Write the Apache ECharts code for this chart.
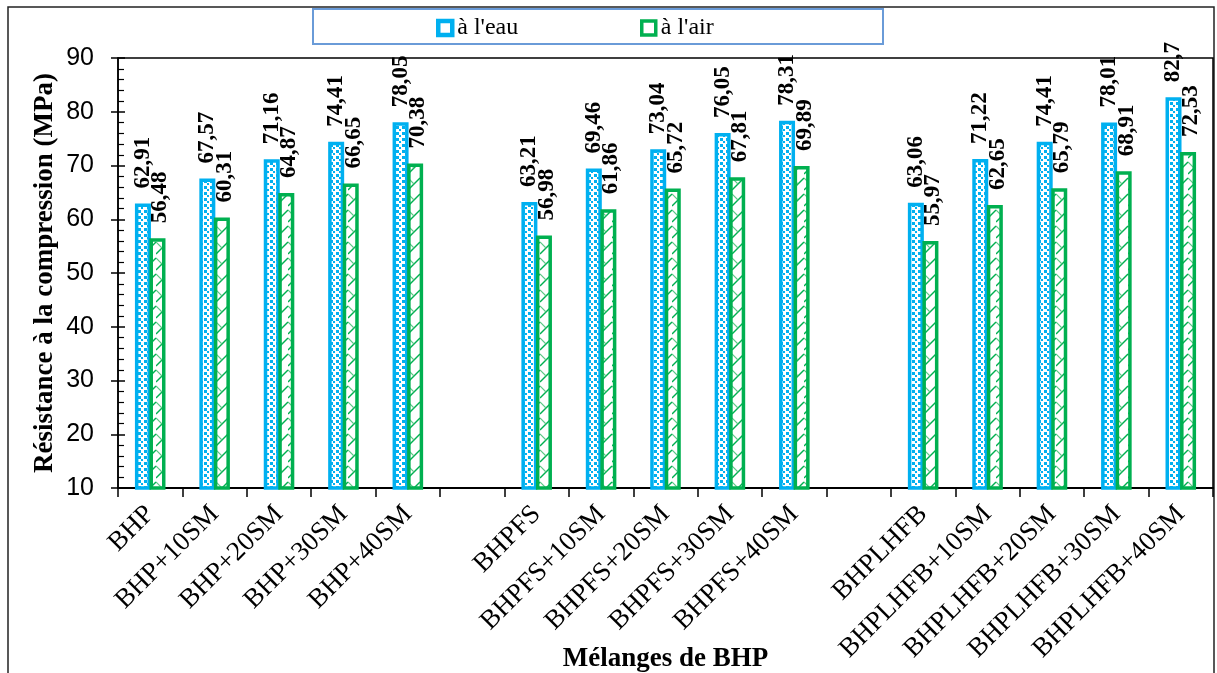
<!DOCTYPE html>
<html>
<head>
<meta charset="utf-8">
<script src="https://cdn.jsdelivr.net/npm/echarts@6/dist/echarts.min.js"></script>
<style>
html,body{margin:0;padding:0;background:#fff;}
#c{width:1217px;height:673px;}
</style>
</head>
<body>
<div id="c"></div>
<script>
const categories = ['BHP','BHP+10SM','BHP+20SM','BHP+30SM','BHP+40SM','',
  'BHPFS','BHPFS+10SM','BHPFS+20SM','BHPFS+30SM','BHPFS+40SM','',
  'BHPLHFB','BHPLHFB+10SM','BHPLHFB+20SM','BHPLHFB+30SM','BHPLHFB+40SM'];
const eauValues = [62.91,67.57,71.16,74.41,78.05,null,
  63.21,69.46,73.04,76.05,78.31,null,
  63.06,71.22,74.41,78.01,82.7];
const airValues = [56.48,60.31,64.87,66.65,70.38,null,
  56.98,61.86,65.72,67.81,69.89,null,
  55.97,62.65,65.79,68.91,72.53];
const seriesNames = ["à l'eau","à l'air"];
const yTicks = {min:10, max:90, interval:10};

const BLUE = '#00B0F0', GREEN = '#00B050';

function bluePattern(){
  const c = document.createElement('canvas'); c.width = 6; c.height = 6;
  const g = c.getContext('2d');
  g.fillStyle = '#fff'; g.fillRect(0,0,6,6);
  g.fillStyle = BLUE;
  g.fillRect(0,0,3,3); g.fillRect(3,3,2,2);
  return {image:c, repeat:'repeat'};
}
function greenPattern(){
  const c = document.createElement('canvas'); c.width = 12; c.height = 16;
  const g = c.getContext('2d');
  g.fillStyle = '#fff'; g.fillRect(0,0,12,16);
  g.strokeStyle = GREEN; g.lineWidth = 1.4;
  g.beginPath(); g.moveTo(0,14); g.lineTo(12,2); g.stroke();
  g.strokeStyle = '#5cc886'; g.lineWidth = 1.1;
  g.beginPath(); g.moveTo(0,2); g.lineTo(6,8); g.stroke();
  return {image:c, repeat:'repeat'};
}
const fmt = p => (p.value == null ? '' : String(p.value).replace('.', ','));
const serif = '"Liberation Serif", "Times New Roman", serif';
const labelBase = {
  show:true, position:'top', rotate:90, align:'left', verticalAlign:'middle',
  distance:15, fontFamily:serif, fontWeight:'bold', fontSize:23, color:'#000', formatter: fmt
};

const chart = echarts.init(document.getElementById('c'), null, {renderer:'canvas'});
chart.setOption({
  backgroundColor:'#fff',
  animation:false,
  graphic:[
    {type:'rect', shape:{x:8,y:7,width:1206,height:700}, style:{fill:'none', stroke:'#222', lineWidth:1.5}, z:-1},
    {type:'rect', shape:{x:313,y:9,width:570,height:35}, style:{fill:'#fff', stroke:'#6A9BD8', lineWidth:2}, z:0}
  ],
  legend:[
    {left:431, top:11, icon:'rect', itemWidth:14, itemHeight:14, itemGap:5,
     textStyle:{fontFamily:serif, fontSize:24, color:'#000'},
     data:[{name:seriesNames[0], itemStyle:{color:'#fff', borderColor:BLUE, borderWidth:4.5}}], z:5},
    {left:635, top:11, icon:'rect', itemWidth:14, itemHeight:14, itemGap:5,
     textStyle:{fontFamily:serif, fontSize:24, color:'#000'},
     data:[{name:seriesNames[1], itemStyle:{color:'#fff', borderColor:GREEN, borderWidth:3.5}}], z:5}
  ],
  grid:{left:118, top:58, right:4, bottom:185, containLabel:false, outerBoundsMode:'none',
        show:true, borderColor:'#000', borderWidth:1.5, backgroundColor:'transparent'},
  xAxis:{
    type:'category', data:categories, boundaryGap:true,
    axisLine:{lineStyle:{color:'#000', width:2}},
    axisTick:{show:true, alignWithLabel:false, length:9, lineStyle:{color:'#000', width:1.5}},
    axisLabel:{interval:0, rotate:45, margin:22, color:'#000', fontFamily:serif, fontSize:27},
    name:'Mélanges de BHP', nameLocation:'middle', nameGap:158, nameMoveOverlap:false,
    nameTextStyle:{fontFamily:serif, fontWeight:'bold', fontSize:27, color:'#000'}
  },
  yAxis:[
    {type:'value', min:yTicks.min, max:yTicks.max, interval:yTicks.interval,
     axisLine:{show:true, lineStyle:{color:'#000', width:1.5}},
     axisTick:{show:true, inside:false, length:7, lineStyle:{color:'#000', width:1.5}},
     splitLine:{show:false},
     axisLabel:{margin:24, color:'#000', fontFamily:'"Liberation Sans", Arial, sans-serif', fontSize:25},
     name:'Résistance à la compression (MPa)', nameLocation:'middle', nameGap:59, nameRotate:90,
     nameMoveOverlap:false,
     nameTextStyle:{fontFamily:serif, fontWeight:'bold', fontSize:27, color:'#000'}
    },
    {type:'value', min:yTicks.min, max:yTicks.max, interval:yTicks.interval, position:'left',
     axisLine:{show:false}, axisLabel:{show:false}, splitLine:{show:false},
     axisTick:{show:true, inside:true, length:7, lineStyle:{color:'#000', width:1.5}},
     minorTick:{show:true, splitNumber:5, length:6, lineStyle:{color:'#000', width:1.2}}
    }
  ],
  series:[
    {name:seriesNames[0], type:'bar', data:eauValues, barWidth:16, barGap:'-9%',
     itemStyle:{color:bluePattern(), borderColor:BLUE, borderWidth:3.5},
     label:Object.assign({}, labelBase, {offset:[0,0]})},
    {name:seriesNames[1], type:'bar', data:airValues, barWidth:16,
     itemStyle:{color:greenPattern(), borderColor:GREEN, borderWidth:3.5},
     label:Object.assign({}, labelBase, {offset:[0,3]})}
  ]
});
</script>
</body>
</html>
